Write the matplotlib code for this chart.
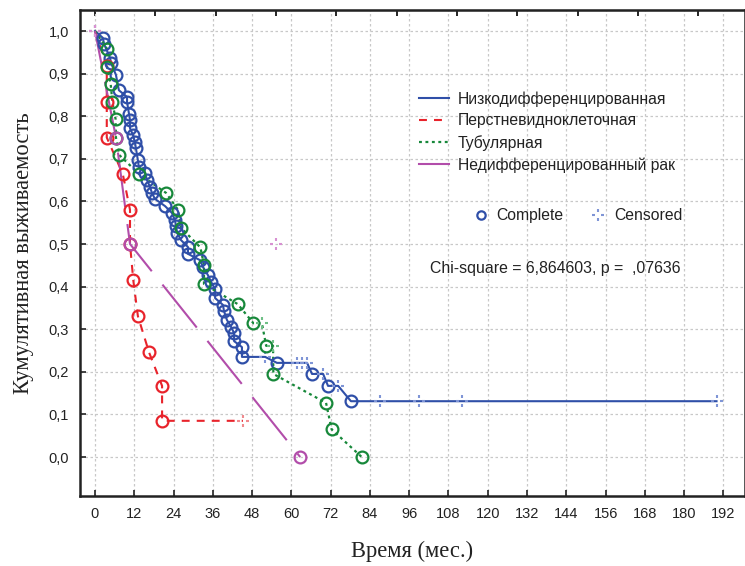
import numpy as np
import matplotlib.pyplot as plt
from matplotlib.path import Path
from matplotlib.lines import Line2D

# Kaplan-Meier estimates (time in months, cumulative survival)
# *_cens: 1 = censored observation, 0 = complete (event)
blue_t = [0, 2.4, 2.8, 4.6, 4.9, 6.4, 7.3, 9.8, 9.8, 10.4, 10.7, 10.7, 11.6, 12.2, 12.5,
          13.1, 13.4, 15.3, 15.9, 16.8, 17.4, 18.3, 21.4, 23.5, 24.4, 24.8, 25.1, 26.3,
          28.4, 28.4, 32.1, 33.0, 34.5, 35.5, 36.7, 36.7, 39.1, 39.4, 40.3, 41.6, 42.5,
          42.5, 44.9, 44.9, 52.0, 55.6, 61.7, 63.3, 64.8, 66.3, 69.7, 71.2, 74.3, 78.2,
          87.1, 99.0, 112.2, 189.9]
blue_s = [1.0, 0.984, 0.969, 0.937, 0.925, 0.897, 0.861, 0.845, 0.833, 0.805, 0.791,
          0.772, 0.756, 0.739, 0.725, 0.697, 0.681, 0.667, 0.650, 0.634, 0.620, 0.606,
          0.589, 0.573, 0.556, 0.542, 0.526, 0.509, 0.493, 0.477, 0.462, 0.446, 0.427,
          0.411, 0.394, 0.373, 0.357, 0.343, 0.322, 0.305, 0.291, 0.272, 0.258, 0.235,
          0.235, 0.221, 0.221, 0.221, 0.221, 0.195, 0.195, 0.167, 0.167, 0.131, 0.131,
          0.131, 0.131, 0.131]
blue_cens = [1] + [0] * 43 + [1, 0, 1, 1, 1, 0, 1, 0, 1, 0, 1, 1, 1, 1]

red_t = [0, 3.6, 3.6, 3.6, 8.5, 10.7, 10.7, 11.7, 13.1, 16.5, 20.5, 20.5, 45.2]
red_s = [1.0, 0.917, 0.834, 0.750, 0.664, 0.580, 0.500, 0.415, 0.331, 0.246, 0.167,
         0.085, 0.085]
red_cens = [1] + [0] * 11 + [1]

green_t = [0, 3.7, 3.7, 4.8, 5.3, 6.3, 6.4, 7.4, 13.5, 21.7, 25.4, 26.3, 32.2, 33.3,
           33.3, 43.6, 48.4, 51.0, 52.3, 54.4, 54.5, 70.6, 72.3, 81.5]
green_s = [1.0, 0.958, 0.915, 0.875, 0.834, 0.793, 0.750, 0.709, 0.664, 0.620, 0.580,
           0.538, 0.492, 0.451, 0.406, 0.359, 0.314, 0.314, 0.261, 0.261, 0.195, 0.127,
           0.065, 0.0]
green_cens = [1] + [0] * 16 + [1, 0, 1, 0, 0, 0, 0]

purple_t = [0, 6.4, 10.7, 62.7]
purple_s = [1.0, 0.75, 0.5, 0.0]
purple_cens = [1, 0, 0, 0]
purple_extra_t = [55.3]
purple_extra_s = [0.5]

group_names = ['Низкодифференцированная', 'Перстневидноклеточная',
               'Тубулярная', 'Недифференцированный рак']
chi_text = 'Chi-square = 6,864603, p =  ,07636'

x_ticks = np.arange(0, 193, 12)
y_ticks = np.arange(0, 1.01, 0.1)

sans = ['Arial', 'Liberation Sans', 'DejaVu Sans']
serif = ['Times New Roman', 'Liberation Serif', 'DejaVu Serif']
plt.rcParams['font.family'] = sans

# dotted cross used by STATISTICA for censored cases
cens_marker = Path(
    [(-1, 0), (-0.55, 0), (0.55, 0), (1, 0), (0, -1), (0, -0.55), (0, 0.55), (0, 1)],
    [Path.MOVETO, Path.LINETO] * 4)

fig = plt.figure(figsize=(7.45, 5.66), dpi=100)
ax = fig.add_axes([80 / 745, 70 / 566, 665 / 745, 486 / 566])

groups = [
    (blue_t, blue_s, blue_cens, '#2f4fa8', '#7f95d6', '-', 1.5),
    (red_t, red_s, red_cens, '#e8232b', '#f08a8e', (0, (3.8, 3.4)), 1.5),
    (green_t, green_s, green_cens, '#17883a', '#6fbf86', (0, (1.3, 1.6)), 1.6),
    (purple_t, purple_s, purple_cens, '#b24daa', '#d890d2', (9.8, (26.4, 8.2)), 1.5),
]

handles = []
for t, s, cens, col, light, ls, lw in groups:
    t = np.array(t)
    s = np.array(s)
    cens = np.array(cens, dtype=bool)
    ax.plot(t, s, color=col, linestyle=ls, linewidth=lw, zorder=2)
    ax.plot(t[~cens], s[~cens], 'o', ms=8.5, mfc='none', mec=col, mew=1.6, zorder=3)
    ax.plot(t[cens], s[cens], marker=cens_marker, ms=8, ls='none', mec=light,
            mew=1.5, zorder=3)
    handles.append(Line2D([], [], color=col, linestyle=ls if col != '#b24daa' else '-',
                          linewidth=lw))

ax.plot(purple_extra_t, purple_extra_s, marker=cens_marker, ms=8, ls='none',
        mec='#d890d2', mew=1.5, zorder=3)

ax.set_xlim(-4.58, 198.6)
ax.set_ylim(-0.0915, 1.0493)
ax.set_xticks(x_ticks)
ax.set_yticks(y_ticks)
ax.set_yticklabels([f'{v:.1f}'.replace('.', ',') for v in y_ticks])
ax.tick_params(direction='in', length=4, width=1.2, labelsize=10.5, pad=8,
               colors='#222222')
ax.grid(True, color='#c8c8c8', linestyle=(0, (2, 2)), linewidth=0.9)
for side in ['left', 'bottom', 'top', 'right']:
    ax.spines[side].set_linewidth(1.8)
    ax.spines[side].set_color('#222222')

top = ax.secondary_xaxis('top')
top.set_xticks(np.arange(0, 190, 18.43))
top.set_xticklabels([])
top.tick_params(direction='in', length=4, width=1.2)

ax.set_xlabel('Время (мес.)', fontsize=16.3, family=serif, color='#222222')
ax.set_ylabel('Кумулятивная выживаемость', fontsize=16.3, family=serif,
              color='#222222')
ax.xaxis.set_label_coords(0.5, -0.093)
ax.yaxis.set_label_coords(-0.069, 0.5)

leg1 = ax.legend(handles, group_names, loc='upper left',
                 bbox_to_anchor=(333 / 665, (496 - 85) / 486), frameon=False,
                 fontsize=11.3, handlelength=1.9, handletextpad=0.55,
                 labelspacing=0.42, borderaxespad=0)
for txt in leg1.get_texts():
    txt.set_color('#222222')
ax.add_artist(leg1)

h_comp = Line2D([], [], marker='o', ms=6, mfc='none', mec='#2f4fa8', mew=1.6,
                ls='none')
h_cens = Line2D([], [], marker=cens_marker, ms=8, mec='#7f95d6', mew=1.5, ls='none')
leg2 = ax.legend([h_comp, h_cens], ['Complete', 'Censored'], loc='upper left',
                 bbox_to_anchor=(0.579, (496 - 202) / 486), frameon=False,
                 ncol=2, fontsize=11.3, handlelength=1.2, handletextpad=0.42,
                 columnspacing=1.57, borderaxespad=0)
for txt in leg2.get_texts():
    txt.set_color('#222222')

fig.text(430 / 745, 1 - 268 / 566, chi_text, fontsize=11.45, color='#222222',
         va='center')

fig.savefig('out.png', dpi=100)
